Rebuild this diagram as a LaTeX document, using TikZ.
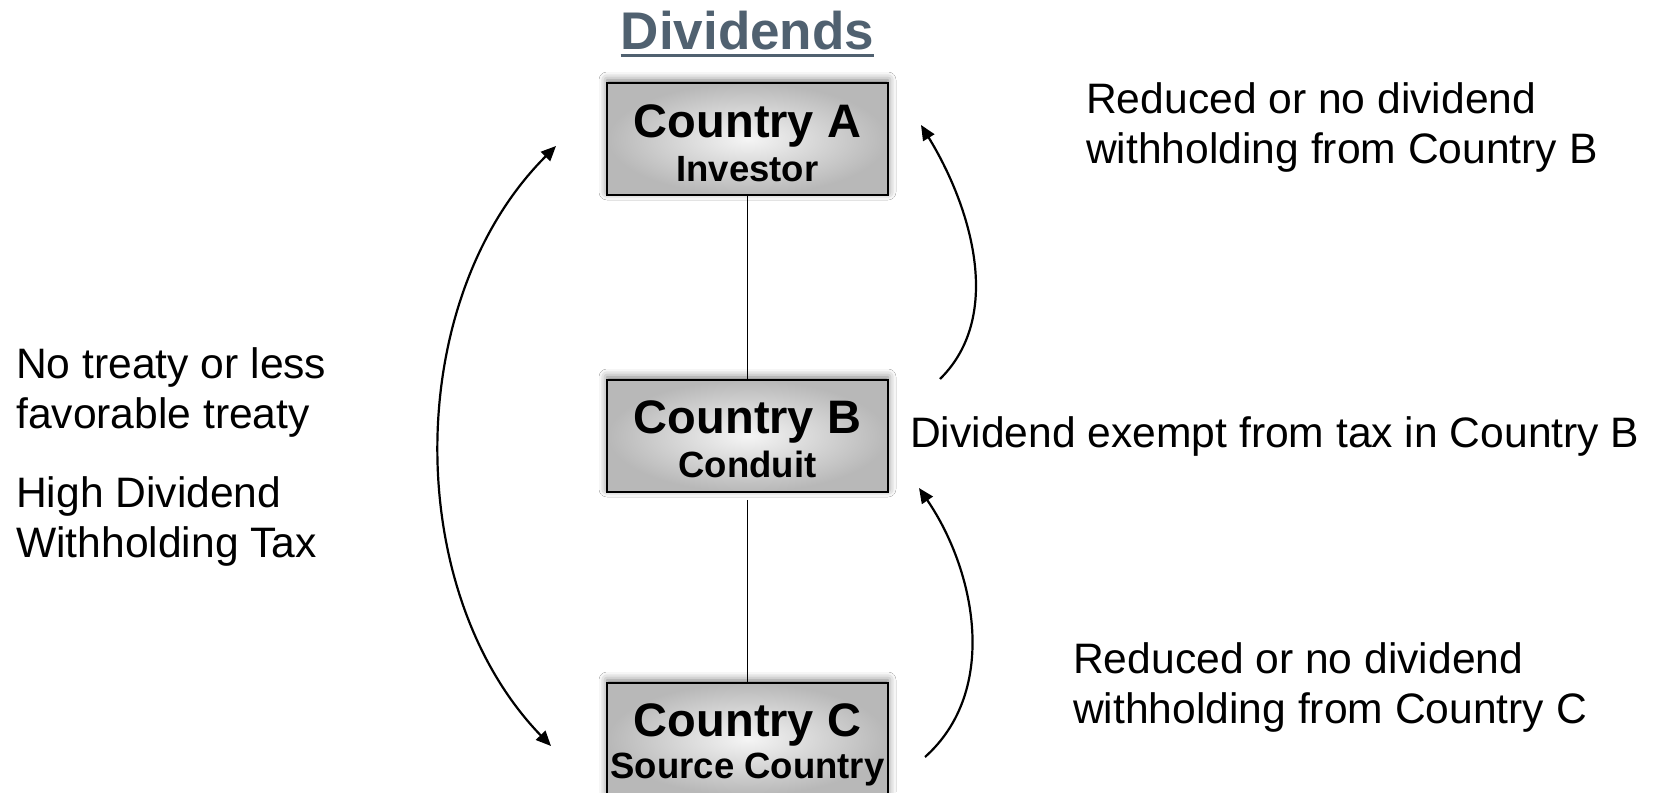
\documentclass[tikz,border=0pt]{standalone}
\usepackage{fontspec}
\setmainfont{Liberation Sans}
\usetikzlibrary{arrows.meta,shadows.blur}
\definecolor{titlegray}{RGB}{80,97,112}
\begin{document}
\begin{tikzpicture}[x=1pt,y=-1pt,
  >={Triangle[length=15pt,width=13pt]},
  countrybox/.style={draw=black, line width=1.8pt, minimum width=281pt,
    minimum height=112pt, inner sep=0pt, shading=radial,
    inner color=black!4, outer color=black!28,
    blur shadow={shadow xshift=0pt, shadow yshift=3pt,
      shadow blur radius=8pt, shadow opacity=55}},
  boxtitle/.style={anchor=base, inner sep=0pt,
    font=\fontsize{47}{47}\selectfont\bfseries},
  boxsub/.style={anchor=base, inner sep=0pt,
    font=\fontsize{36.5}{40}\selectfont\bfseries},
  % multi-line notes are placed by the baseline of their last line
  note/.style={anchor=base west, inner sep=0pt, align=left,
    font=\fontsize{42.6}{50}\selectfont},
  link/.style={line width=1.5pt},
  flow/.style={line width=2.2pt},
]
\clip (0,0) rectangle (1656,792);
\fill[white] (0,0) rectangle (1656,792);

% heading
\node[anchor=base, inner sep=0pt, text=titlegray,
  font=\fontsize{53}{53}\selectfont\bfseries] (head) at (747.5,50) {Dividends};
\draw[titlegray, line width=3.5pt]
  ([yshift=-5.5pt]head.base west) -- ([yshift=-5.5pt]head.base east);

% the three countries
\node[countrybox] (A) at (747.5,139) {};
\node[countrybox] (B) at (747.5,436) {};
\node[countrybox] (C) at (747.5,739) {};

\node[boxtitle] (A1) at (747.5,137) {Country A};
\node[boxsub]   (A2) at (747.5,181) {Investor};
\node[boxtitle] (B1) at (747.5,433) {Country B};
\node[boxsub]   (B2) at (747.5,477) {Conduit};
\node[boxtitle] (C1) at (747.5,736) {Country C};
\node[boxsub]   (C2) at (747.5,778) {Source Country};

% ownership chain
\draw[link] (A.south) -- (B.north);
\draw[link, shorten <=7pt] (B.south) -- (C.north);

% dividend flows
\coordinate (lt) at (556,146);
\coordinate (lb) at (551,746);
\coordinate (ut) at (921,125);
\coordinate (us) at (940,379);
\coordinate (dt) at (919,488);
\coordinate (ds) at (925,757);

\draw[flow, <->] (lt) .. controls (402,300) and (402,592) .. (lb);
\draw[flow, ->] (us) .. controls (1005,315) and (970,205) .. (ut);
\draw[flow, ->] (ds) .. controls (1000,690) and (975,570) .. (dt);

% annotations
\node[note] (n1) at (16,428) {No treaty or less\\favorable treaty};
\node[note] (n2) at (16,557) {High Dividend\\Withholding Tax};
\node[note] (n3) at (1086,163) {Reduced or no dividend\\withholding from Country B};
\node[note] (n4) at (910,447) {Dividend exempt from tax in Country B};
\node[note] (n5) at (1073,723) {Reduced or no dividend\\withholding from Country C};
\end{tikzpicture}
\end{document}
